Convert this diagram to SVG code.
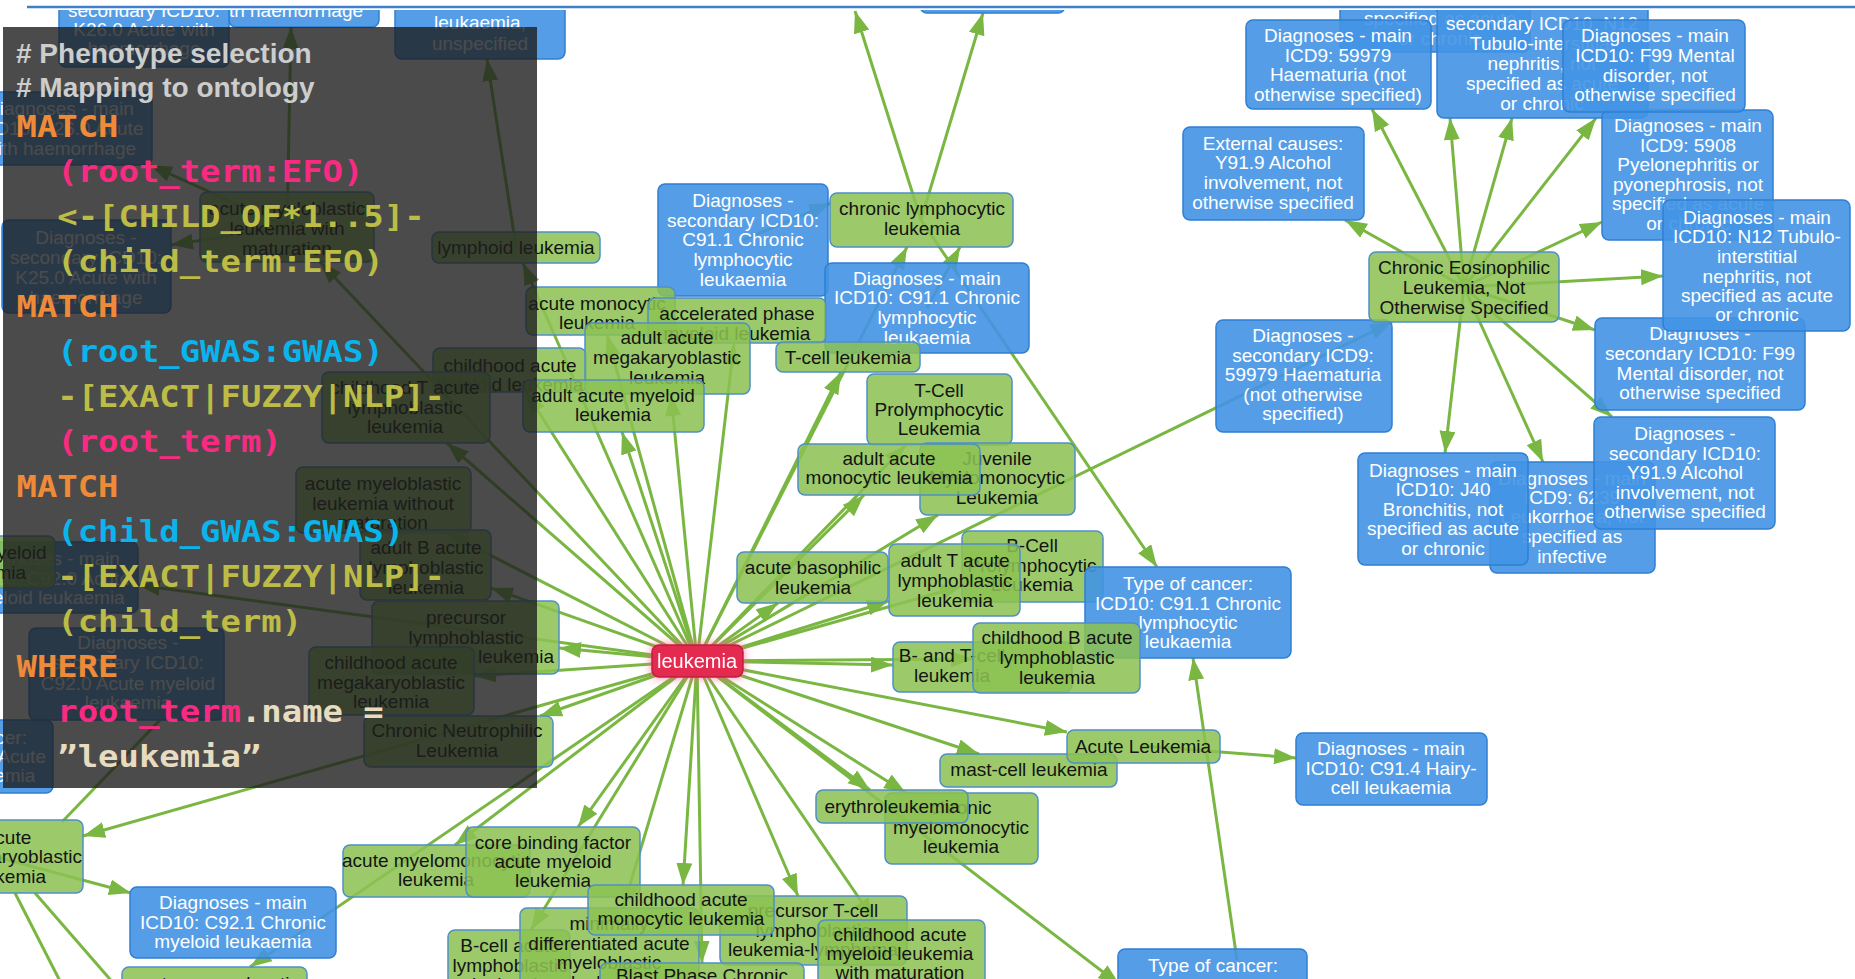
<svg xmlns="http://www.w3.org/2000/svg" width="1855" height="979" viewBox="0 0 1855 979">
  <defs>
    <style>
      .n text { font-family: "Liberation Sans", Arial, Helvetica, sans-serif; font-size: 19px; text-anchor: middle; }
      .g rect { fill: #8cc152; fill-opacity: 0.86; stroke: #4f8fc9; stroke-width: 1.5; }
      .g text { fill: #141414; }
      .b rect { fill: #4394e4; fill-opacity: 0.9; stroke: #2f7fd4; stroke-width: 1.5; }
      .b text { fill: #ffffff; }
      .r rect { fill: #e5294f; stroke: #c21c44; stroke-width: 1.5; }
      .r text { fill: #ffffff; font-size: 20px; }
      #edges line { stroke: #7ab742; stroke-width: 3; fill: none; }
      .code { font-family: "DejaVu Sans Mono", "Liberation Mono", monospace; font-size: 30px; font-weight: bold; }
      .cmt { font-family: "Liberation Sans", Arial, Helvetica, sans-serif; font-size: 28px; font-weight: bold; fill: #cdcdcd; }
      .kw { fill: #ef8a38; }
      .pk { fill: #f92a82; }
      .ol { fill: #bcbc46; }
      .cy { fill: #0ab4ec; }
      .cr { fill: #e8dcc0; }
    </style>
    <marker id="ah" markerUnits="userSpaceOnUse" markerWidth="24" markerHeight="18" refX="22" refY="8" orient="auto">
      <path d="M0,0 L22,8 L0,16 z" fill="#7ab742"/>
    </marker>
    <filter id="glow" x="-50%" y="-100%" width="200%" height="300%">
      <feDropShadow dx="0" dy="0" stdDeviation="5" flood-color="#ff5a82" flood-opacity="0.75"/>
    </filter>
    <clipPath id="view">
      <rect x="0" y="10" width="1855" height="969"/>
    </clipPath>
  </defs>

  <rect width="1855" height="979" fill="#ffffff"/>
  <line x1="27" y1="7" x2="1855" y2="7" stroke="#3f7fcb" stroke-width="2.5"/>

  <g clip-path="url(#view)">
    <!-- connectors -->
    <g id="edges" marker-end="url(#ah)">
      <line x1="697" y1="661" x2="523" y2="263"/>
      <line x1="697" y1="661" x2="607" y2="335"/>
      <line x1="697" y1="661" x2="734" y2="343"/>
      <line x1="697" y1="661" x2="671" y2="394"/>
      <line x1="697" y1="661" x2="622" y2="432"/>
      <line x1="697" y1="661" x2="841" y2="372"/>
      <line x1="697" y1="661" x2="907" y2="247"/>
      <line x1="697" y1="661" x2="906" y2="445"/>
      <line x1="697" y1="661" x2="864" y2="495"/>
      <line x1="697" y1="661" x2="938" y2="515"/>
      <line x1="697" y1="661" x2="778" y2="603"/>
      <line x1="697" y1="661" x2="889" y2="601"/>
      <line x1="697" y1="661" x2="962" y2="586"/>
      <line x1="697" y1="661" x2="893" y2="665"/>
      <line x1="697" y1="661" x2="973" y2="659"/>
      <line x1="697" y1="661" x2="1392" y2="322"/>
      <line x1="697" y1="661" x2="979" y2="754"/>
      <line x1="697" y1="661" x2="1067" y2="732"/>
      <line x1="697" y1="661" x2="870" y2="790"/>
      <line x1="697" y1="661" x2="906" y2="793"/>
      <line x1="697" y1="661" x2="874" y2="920"/>
      <line x1="697" y1="661" x2="798" y2="896"/>
      <line x1="697" y1="661" x2="702" y2="963"/>
      <line x1="697" y1="661" x2="683" y2="885"/>
      <line x1="697" y1="661" x2="623" y2="908"/>
      <line x1="697" y1="661" x2="531" y2="930"/>
      <line x1="697" y1="661" x2="578" y2="827"/>
      <line x1="697" y1="661" x2="455" y2="845"/>
      <line x1="697" y1="661" x2="83" y2="836"/>
      <line x1="697" y1="661" x2="540" y2="716"/>
      <line x1="697" y1="661" x2="474" y2="676"/>
      <line x1="697" y1="661" x2="559" y2="648"/>
      <line x1="697" y1="661" x2="491" y2="588"/>
      <line x1="697" y1="661" x2="447" y2="533"/>
      <line x1="697" y1="661" x2="447" y2="443"/>
      <line x1="697" y1="661" x2="526" y2="392"/>
      <line x1="697" y1="661" x2="320" y2="262"/>
      <line x1="697" y1="661" x2="250" y2="967"/>
      <line x1="697" y1="661" x2="138" y2="585"/>
      <line x1="697" y1="661" x2="1120" y2="985"/>
      <line x1="921" y1="220" x2="855" y2="11"/>
      <line x1="921" y1="220" x2="983" y2="13"/>
      <line x1="921" y1="220" x2="1157" y2="567"/>
      <line x1="743" y1="240" x2="831" y2="203"/>
      <line x1="927" y1="308" x2="960" y2="247"/>
      <line x1="516" y1="247" x2="487" y2="59"/>
      <line x1="287" y1="227" x2="291" y2="27"/>
      <line x1="287" y1="227" x2="150" y2="165"/>
      <line x1="287" y1="227" x2="171" y2="245"/>
      <line x1="1143" y1="746" x2="1296" y2="758"/>
      <line x1="1237" y1="960" x2="1193" y2="658"/>
      <line x1="1464" y1="287" x2="1372" y2="109"/>
      <line x1="1464" y1="287" x2="1345" y2="220"/>
      <line x1="1464" y1="287" x2="1450" y2="118"/>
      <line x1="1464" y1="287" x2="1512" y2="118"/>
      <line x1="1464" y1="287" x2="1596" y2="118"/>
      <line x1="1464" y1="287" x2="1602" y2="222"/>
      <line x1="1464" y1="287" x2="1663" y2="276"/>
      <line x1="1464" y1="287" x2="1595" y2="330"/>
      <line x1="1464" y1="287" x2="1612" y2="417"/>
      <line x1="1464" y1="287" x2="1445" y2="453"/>
      <line x1="1464" y1="287" x2="1543" y2="462"/>
      <line x1="0" y1="858" x2="131" y2="893"/>
      <line x1="15" y1="893" x2="62" y2="985" marker-end="none"/>
      <line x1="35" y1="893" x2="115" y2="985" marker-end="none"/>
      <line x1="160" y1="720" x2="62" y2="822" marker-end="none"/>
    </g>

    <!-- nodes: upper left -->
    <g id="n-t1b" class="n b"><rect x="229" y="-30" width="150" height="57" rx="7"/><text x="287" y="17">with haemorrhage</text></g>
    <g id="n-t1a" class="n b"><rect x="59" y="-30" width="170" height="97" rx="7"/><text><tspan x="144" y="17">secondary ICD10:</tspan><tspan x="144" y="36">K26.0 Acute with</tspan><tspan x="144" y="55">haemorrhage</tspan></text></g>
    <g id="n-t2" class="n b"><rect x="395" y="-40" width="170" height="99" rx="7"/><text><tspan x="480" y="29">leukaemia,</tspan><tspan x="480" y="50">unspecified</tspan></text></g>
    <g id="n-k26-main" class="n b"><rect x="-30" y="92" width="182" height="73" rx="7"/><text><tspan x="60" y="115">Diagnoses - main</tspan><tspan x="60" y="135">ICD10: K26.0 Acute</tspan><tspan x="60" y="155">with haemorrhage</tspan></text></g>
    <g id="n-k25-sec" class="n b"><rect x="2" y="220" width="169" height="93" rx="7"/><text><tspan x="86" y="244">Diagnoses -</tspan><tspan x="86" y="264">secondary ICD10:</tspan><tspan x="86" y="284">K25.0 Acute with</tspan><tspan x="86" y="304">haemorrhage</tspan></text></g>
    <g id="n-aml-mat" class="n g"><rect x="200" y="192" width="174" height="70" rx="7"/><text><tspan x="287" y="215">acute myeloblastic</tspan><tspan x="287" y="235">leukemia with</tspan><tspan x="287" y="255">maturation</tspan></text></g>
    <g id="n-lymphoid" class="n g"><rect x="432" y="232" width="168" height="31" rx="7"/><text x="516" y="254">lymphoid leukemia</text></g>
    <g id="n-c920-main" class="n b"><rect x="-40" y="542" width="178" height="71" rx="7"/><text><tspan x="46" y="565">Diagnoses - main</tspan><tspan x="46" y="585">ICD10: C92.0 Acute</tspan><tspan x="46" y="604">myeloid leukaemia</tspan></text></g>
    <g id="n-aml" class="n g"><rect x="-80" y="536" width="135" height="52" rx="7"/><text><tspan x="-12" y="559">acute myeloid</tspan><tspan x="-12" y="579">leukemia</tspan></text></g>
    <g id="n-child-aml" class="n g"><rect x="433" y="348" width="153" height="44" rx="7"/><text><tspan x="510" y="372">childhood acute</tspan><tspan x="510" y="391">myeloid leukemia</tspan></text></g>
    <g id="n-child-tall" class="n g"><rect x="322" y="372" width="168" height="71" rx="7"/><text><tspan x="405" y="394">childhood T acute</tspan><tspan x="405" y="414">lymphoblastic</tspan><tspan x="405" y="433">leukemia</tspan></text></g>
    <g id="n-aml-nomat" class="n g"><rect x="296" y="467" width="175" height="66" rx="7"/><text><tspan x="383" y="490">acute myeloblastic</tspan><tspan x="383" y="510">leukemia without</tspan><tspan x="383" y="529">maturation</tspan></text></g>
    <g id="n-adult-ball" class="n g"><rect x="360" y="530" width="131" height="70" rx="7"/><text><tspan x="426" y="554">adult B acute</tspan><tspan x="426" y="574">lymphoblastic</tspan><tspan x="426" y="594">leukemia</tspan></text></g>
    <g id="n-precursor" class="n g"><rect x="372" y="601" width="187" height="73" rx="7"/><text><tspan x="466" y="624">precursor</tspan><tspan x="466" y="644">lymphoblastic</tspan><tspan x="516" y="663">leukemia</tspan></text></g>
    <g id="n-c920-sec" class="n b"><rect x="29" y="628" width="195" height="92" rx="7"/><text><tspan x="128" y="649">Diagnoses -</tspan><tspan x="128" y="669">secondary ICD10:</tspan><tspan x="128" y="690">C92.0 Acute myeloid</tspan><tspan x="128" y="709">leukaemia</tspan></text></g>
    <g id="n-child-amkl" class="n g"><rect x="309" y="647" width="165" height="68" rx="7"/><text><tspan x="391" y="669">childhood acute</tspan><tspan x="391" y="689">megakaryoblastic</tspan><tspan x="391" y="708">leukemia</tspan></text></g>
    <g id="n-cnl" class="n g"><rect x="364" y="716" width="189" height="51" rx="7"/><text><tspan x="457" y="737">Chronic Neutrophilic</tspan><tspan x="457" y="757">Leukemia</tspan></text></g>
    <g id="n-toc-c920" class="n b"><rect x="-130" y="720" width="183" height="73" rx="7"/><text><tspan x="-38" y="744">Type of cancer:</tspan><tspan x="-38" y="763">ICD10: C92.0 Acute</tspan><tspan x="-38" y="782">myeloid leukemia</tspan></text></g>

    <!-- nodes: centre -->
    <g id="n-t3" class="n b"><rect x="920" y="-60" width="145" height="73" rx="7"/></g>
    <g id="n-c911-sec" class="n b"><rect x="658" y="184" width="170" height="112" rx="7"/><text><tspan x="743" y="207">Diagnoses -</tspan><tspan x="743" y="227">secondary ICD10:</tspan><tspan x="743" y="246">C91.1 Chronic</tspan><tspan x="743" y="266">lymphocytic</tspan><tspan x="743" y="286">leukaemia</tspan></text></g>
    <g id="n-cll" class="n g"><rect x="830" y="193" width="183" height="54" rx="7"/><text><tspan x="922" y="215">chronic lymphocytic</tspan><tspan x="922" y="235">leukemia</tspan></text></g>
    <g id="n-c911-main" class="n b"><rect x="825" y="263" width="204" height="90" rx="7"/><text><tspan x="927" y="285">Diagnoses - main</tspan><tspan x="927" y="304">ICD10: C91.1 Chronic</tspan><tspan x="927" y="324">lymphocytic</tspan><tspan x="927" y="344">leukaemia</tspan></text></g>
    <g id="n-amol" class="n g"><rect x="526" y="287" width="149" height="48" rx="7"/><text><tspan x="597" y="310">acute monocytic</tspan><tspan x="597" y="329">leukemia</tspan></text></g>
    <g id="n-accel" class="n g"><rect x="648" y="298" width="178" height="45" rx="7"/><text><tspan x="737" y="320">accelerated phase</tspan><tspan x="737" y="340">myeloid leukemia</tspan></text></g>
    <g id="n-adult-amkl" class="n g"><rect x="585" y="323" width="165" height="71" rx="7"/><text><tspan x="667" y="344">adult acute</tspan><tspan x="667" y="364">megakaryoblastic</tspan><tspan x="667" y="384">leukemia</tspan></text></g>
    <g id="n-tcell" class="n g"><rect x="776" y="342" width="144" height="30" rx="7"/><text x="848" y="364">T-cell leukemia</text></g>
    <g id="n-adult-aml" class="n g"><rect x="523" y="380" width="181" height="52" rx="7"/><text><tspan x="613" y="402">adult acute myeloid</tspan><tspan x="613" y="421">leukemia</tspan></text></g>
    <g id="n-tpll" class="n g"><rect x="867" y="374" width="145" height="71" rx="7"/><text><tspan x="939" y="397">T-Cell</tspan><tspan x="939" y="416">Prolymphocytic</tspan><tspan x="939" y="435">Leukemia</tspan></text></g>
    <g id="n-jmml" class="n g"><rect x="920" y="443" width="155" height="72" rx="7"/><text><tspan x="997" y="465">Juvenile</tspan><tspan x="997" y="484">Myelomonocytic</tspan><tspan x="997" y="504">Leukemia</tspan></text></g>
    <g id="n-adult-amol" class="n g"><rect x="798" y="444" width="182" height="51" rx="7"/><text><tspan x="889" y="465">adult acute</tspan><tspan x="889" y="484">monocytic leukemia</tspan></text></g>
    <g id="n-bpll" class="n g"><rect x="962" y="531" width="141" height="71" rx="7"/><text><tspan x="1032" y="552">B-Cell</tspan><tspan x="1032" y="572">Prolymphocytic</tspan><tspan x="1032" y="591">Leukemia</tspan></text></g>
    <g id="n-baso" class="n g"><rect x="737" y="552" width="151" height="51" rx="7"/><text><tspan x="813" y="574">acute basophilic</tspan><tspan x="813" y="594">leukemia</tspan></text></g>
    <g id="n-adult-tall" class="n g"><rect x="889" y="544" width="131" height="72" rx="7"/><text><tspan x="955" y="567">adult T acute</tspan><tspan x="955" y="587">lymphoblastic</tspan><tspan x="955" y="607">leukemia</tspan></text></g>
    <g id="n-toc-c911" class="n b"><rect x="1085" y="567" width="206" height="91" rx="7"/><text><tspan x="1188" y="590">Type of cancer:</tspan><tspan x="1188" y="610">ICD10: C91.1 Chronic</tspan><tspan x="1188" y="629">lymphocytic</tspan><tspan x="1188" y="648">leukaemia</tspan></text></g>
    <g id="n-bt" class="n g"><rect x="893" y="642" width="179" height="50" rx="7"/><text><tspan x="952" y="662">B- and T-cell</tspan><tspan x="952" y="682">leukemia</tspan></text></g>
    <g id="n-child-ball" class="n g"><rect x="973" y="623" width="167" height="70" rx="7"/><text><tspan x="1057" y="644">childhood B acute</tspan><tspan x="1057" y="664">lymphoblastic</tspan><tspan x="1057" y="684">leukemia</tspan></text></g>
    <g id="n-mast" class="n g"><rect x="940" y="754" width="177" height="33" rx="7"/><text x="1029" y="776">mast-cell leukemia</text></g>
    <g id="n-acute" class="n g"><rect x="1067" y="730" width="153" height="33" rx="7"/><text x="1143" y="753">Acute Leukemia</text></g>
    <g id="n-hairy" class="n b"><rect x="1296" y="733" width="191" height="72" rx="7"/><text><tspan x="1391" y="755">Diagnoses - main</tspan><tspan x="1391" y="775">ICD10: C91.4 Hairy-</tspan><tspan x="1391" y="794">cell leukaemia</tspan></text></g>
    <g id="n-cmml" class="n g"><rect x="885" y="793" width="153" height="71" rx="7"/><text><tspan x="961" y="814">chronic</tspan><tspan x="961" y="834">myelomonocytic</tspan><tspan x="961" y="853">leukemia</tspan></text></g>
    <g id="n-erythro" class="n g"><rect x="816" y="790" width="152" height="33" rx="7"/><text x="892" y="813">erythroleukemia</text></g>
    <g id="n-ammol" class="n g"><rect x="343" y="845" width="187" height="52" rx="7"/><text><tspan x="436" y="867">acute myelomonocytic</tspan><tspan x="436" y="886">leukemia</tspan></text></g>
    <g id="n-cbf" class="n g"><rect x="466" y="827" width="174" height="70" rx="7"/><text><tspan x="553" y="849">core binding factor</tspan><tspan x="553" y="868">acute myeloid</tspan><tspan x="553" y="887">leukemia</tspan></text></g>
    <g id="n-ball" class="n g"><rect x="448" y="930" width="122" height="70" rx="7"/><text><tspan x="510" y="952">B-cell acute</tspan><tspan x="510" y="972">lymphoblastic</tspan><tspan x="510" y="991">leukemia</tspan></text></g>
    <g id="n-min-diff" class="n g"><rect x="520" y="908" width="179" height="90" rx="7"/><text><tspan x="609" y="930">minimally</tspan><tspan x="609" y="950">differentiated acute</tspan><tspan x="609" y="969">myeloblastic</tspan><tspan x="609" y="989">leukemia</tspan></text></g>
    <g id="n-pre-t" class="n g"><rect x="720" y="896" width="187" height="69" rx="7"/><text><tspan x="813" y="917">precursor T-cell</tspan><tspan x="813" y="937">lymphoblastic</tspan><tspan x="813" y="956">leukemia-lymphoma</tspan></text></g>
    <g id="n-child-amol" class="n g"><rect x="588" y="885" width="186" height="50" rx="7"/><text><tspan x="681" y="906">childhood acute</tspan><tspan x="681" y="925">monocytic leukemia</tspan></text></g>
    <g id="n-blast" class="n g"><rect x="600" y="963" width="204" height="60" rx="7"/><text x="702" y="982">Blast Phase Chronic</text></g>
    <g id="n-child-aml-mat" class="n g"><rect x="818" y="920" width="167" height="80" rx="7"/><text><tspan x="900" y="941">childhood acute</tspan><tspan x="900" y="960">myeloid leukemia</tspan><tspan x="900" y="979">with maturation</tspan></text></g>
    <g id="n-amkl" class="n g"><rect x="-70" y="820" width="153" height="73" rx="7"/><text><tspan x="8" y="844">acute</tspan><tspan x="8" y="863">megakaryoblastic</tspan><tspan x="8" y="883">leukemia</tspan></text></g>
    <g id="n-c921-main" class="n b"><rect x="130" y="887" width="206" height="71" rx="7"/><text><tspan x="233" y="909">Diagnoses - main</tspan><tspan x="233" y="929">ICD10: C92.1 Chronic</tspan><tspan x="233" y="948">myeloid leukaemia</tspan></text></g>
    <g id="n-apl" class="n g"><rect x="122" y="967" width="185" height="60" rx="7"/><text x="215" y="990">acute promyelocytic</text></g>
    <g id="n-toc-c910" class="n b"><rect x="1118" y="949" width="189" height="60" rx="7"/><text x="1213" y="972">Type of cancer:</text></g>

    <!-- nodes: upper right -->
    <g id="n-tra" class="n b"><rect x="1340" y="-40" width="190" height="92" rx="7"/><text><tspan x="1440" y="25">specified as acute</tspan><tspan x="1440" y="45">or chronic</tspan></text></g>
    <g id="n-59979-main" class="n b"><rect x="1246" y="20" width="185" height="89" rx="7"/><text><tspan x="1338" y="42">Diagnoses - main</tspan><tspan x="1338" y="62">ICD9: 59979</tspan><tspan x="1338" y="81">Haematuria (not</tspan><tspan x="1338" y="101">otherwise specified)</tspan></text></g>
    <g id="n-n12-sec" class="n b"><rect x="1437" y="-20" width="211" height="138" rx="7"/><text><tspan x="1542" y="30">secondary ICD10: N12</tspan><tspan x="1542" y="50">Tubulo-interstitial</tspan><tspan x="1542" y="70">nephritis, not</tspan><tspan x="1542" y="90">specified as acute</tspan><tspan x="1542" y="110">or chronic</tspan></text></g>
    <g id="n-5908-main" class="n b"><rect x="1602" y="110" width="171" height="130" rx="7"/><text><tspan x="1688" y="132">Diagnoses - main</tspan><tspan x="1688" y="152">ICD9: 5908</tspan><tspan x="1688" y="171">Pyelonephritis or</tspan><tspan x="1688" y="191">pyonephrosis, not</tspan><tspan x="1688" y="210">specified as acute</tspan><tspan x="1688" y="230">or chronic</tspan></text></g>
    <g id="n-f99-main" class="n b"><rect x="1563" y="20" width="182" height="92" rx="7"/><text><tspan x="1655" y="42">Diagnoses - main</tspan><tspan x="1655" y="62">ICD10: F99 Mental</tspan><tspan x="1655" y="82">disorder, not</tspan><tspan x="1655" y="101">otherwise specified</tspan></text></g>
    <g id="n-f99-sec" class="n b"><rect x="1595" y="318" width="210" height="92" rx="7"/><text><tspan x="1700" y="340">Diagnoses -</tspan><tspan x="1700" y="360">secondary ICD10: F99</tspan><tspan x="1700" y="380">Mental disorder, not</tspan><tspan x="1700" y="399">otherwise specified</tspan></text></g>
    <g id="n-n12-main" class="n b"><rect x="1663" y="200" width="187" height="131" rx="7"/><text><tspan x="1757" y="224">Diagnoses - main</tspan><tspan x="1757" y="243">ICD10: N12 Tubulo-</tspan><tspan x="1757" y="263">interstitial</tspan><tspan x="1757" y="283">nephritis, not</tspan><tspan x="1757" y="302">specified as acute</tspan><tspan x="1757" y="321">or chronic</tspan></text></g>
    <g id="n-ext-y919" class="n b"><rect x="1183" y="127" width="181" height="93" rx="7"/><text><tspan x="1273" y="150">External causes:</tspan><tspan x="1273" y="169">Y91.9 Alcohol</tspan><tspan x="1273" y="189">involvement, not</tspan><tspan x="1273" y="209">otherwise specified</tspan></text></g>
    <g id="n-59979-sec" class="n b"><rect x="1216" y="320" width="176" height="112" rx="7"/><text><tspan x="1303" y="342">Diagnoses -</tspan><tspan x="1303" y="362">secondary ICD9:</tspan><tspan x="1303" y="381">59979 Haematuria</tspan><tspan x="1303" y="401">(not otherwise</tspan><tspan x="1303" y="420">specified)</tspan></text></g>
    <g id="n-cel" class="n g"><rect x="1369" y="252" width="190" height="70" rx="7"/><text><tspan x="1464" y="274">Chronic Eosinophilic</tspan><tspan x="1464" y="294">Leukemia, Not</tspan><tspan x="1464" y="314">Otherwise Specified</tspan></text></g>
    <g id="n-6239-main" class="n b"><rect x="1490" y="462" width="165" height="111" rx="7"/><text><tspan x="1572" y="485">Diagnoses - main</tspan><tspan x="1572" y="504">ICD9: 6239</tspan><tspan x="1572" y="523">Leukorrhoea, not</tspan><tspan x="1572" y="543">specified as</tspan><tspan x="1572" y="563">infective</tspan></text></g>
    <g id="n-j40-main" class="n b"><rect x="1358" y="453" width="170" height="112" rx="7"/><text><tspan x="1443" y="477">Diagnoses - main</tspan><tspan x="1443" y="496">ICD10: J40</tspan><tspan x="1443" y="516">Bronchitis, not</tspan><tspan x="1443" y="535">specified as acute</tspan><tspan x="1443" y="555">or chronic</tspan></text></g>
    <g id="n-y919-sec" class="n b"><rect x="1594" y="417" width="181" height="112" rx="7"/><text><tspan x="1685" y="440">Diagnoses -</tspan><tspan x="1685" y="460">secondary ICD10:</tspan><tspan x="1685" y="479">Y91.9 Alcohol</tspan><tspan x="1685" y="499">involvement, not</tspan><tspan x="1685" y="518">otherwise specified</tspan></text></g>

    <!-- root term -->
    <g id="n-leukemia" class="n r" filter="url(#glow)"><rect x="652" y="645" width="91" height="32" rx="7"/><text x="697" y="668">leukemia</text></g>
  </g>

  <!-- query panel -->
  <g id="query">
    <rect x="3" y="27" width="534" height="761" fill="#1e1e1e" fill-opacity="0.8"/>
    <text class="cmt" x="16" y="63"># Phenotype selection</text>
    <text class="cmt" x="16" y="97"># Mapping to ontology</text>
    <g transform="scale(1.13 1)" class="code">
      <text class="kw" x="14.6" y="137">MATCH</text>
      <text class="pk" x="50.7" y="182">(root_term:EFO)</text>
      <text class="ol" x="50.7" y="227">&lt;-[CHILD_OF*1..5]-</text>
      <text class="ol" x="50.7" y="272">(child_term:EFO)</text>
      <text class="kw" x="14.6" y="317">MATCH</text>
      <text class="cy" x="50.7" y="362">(root_GWAS:GWAS)</text>
      <text class="ol" x="50.7" y="407">-[EXACT|FUZZY|NLP]-</text>
      <text class="pk" x="50.7" y="452">(root_term)</text>
      <text class="kw" x="14.6" y="497">MATCH</text>
      <text class="cy" x="50.7" y="542">(child_GWAS:GWAS)</text>
      <text class="ol" x="50.7" y="587">-[EXACT|FUZZY|NLP]-</text>
      <text class="ol" x="50.7" y="632">(child_term)</text>
      <text class="kw" x="14.6" y="677">WHERE</text>
      <text x="50.7" y="722"><tspan class="pk">root_term</tspan><tspan class="cr">.name =</tspan></text>
      <text class="cr" x="50.7" y="767">”leukemia”</text>
    </g>
  </g>
</svg>
